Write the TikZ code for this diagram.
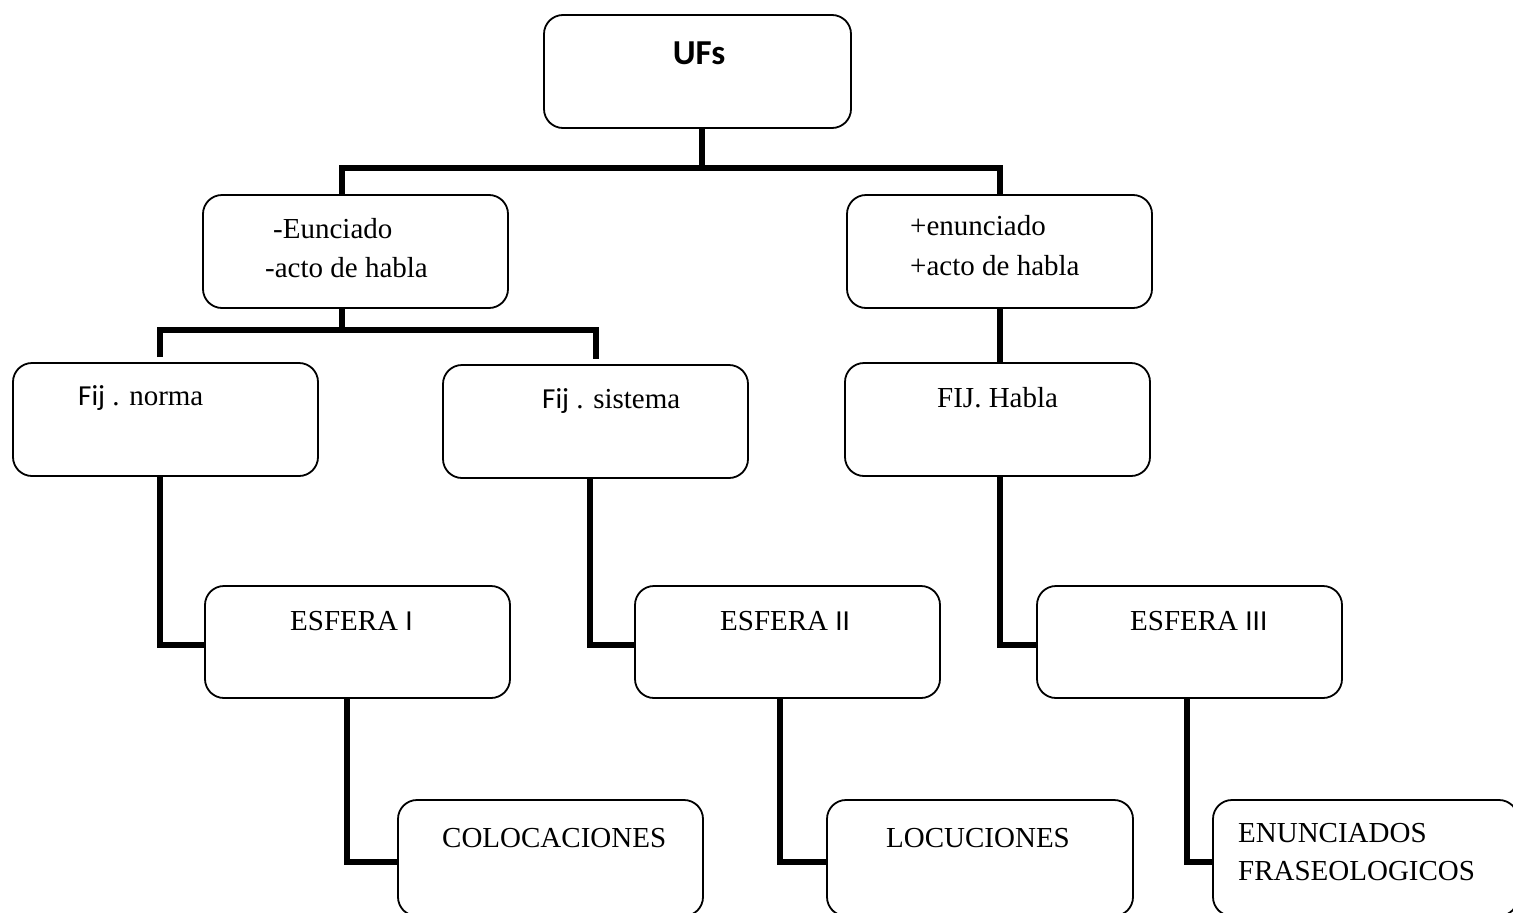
\documentclass[tikz,border=0pt]{standalone}
\usepackage{fontspec}
\setmainfont{Liberation Serif}
\newfontfamily\calibri{Carlito}
\begin{document}
\begin{tikzpicture}[x=1pt, y=-1pt,
  box/.style={draw, line width=1.8pt, rounded corners=19pt, minimum width=305pt, minimum height=113pt, inner sep=0pt},
  link/.style={line width=6pt},
  txt/.style={anchor=base west, inner sep=0pt, font=\fontsize{29}{35}\selectfont}]

\useasboundingbox (0,0) rectangle (1513,913);

% boxes
\node [box, minimum width=307pt] (ufs) at (697.5, 71.5) {};
\node [box] (neg)   at (355.5, 251.5) {};
\node [box] (pos)   at (999.5, 251.5) {};
\node [box] (norma) at (165.5, 419.5) {};
\node [box] (sist)  at (595.5, 421.5) {};
\node [box] (habla) at (997.5, 419.5) {};
\node [box, minimum height=112pt] (esf1) at (357.5, 642) {};
\node [box, minimum height=112pt] (esf2) at (787.5, 642) {};
\node [box, minimum height=112pt] (esf3) at (1189.5, 642) {};
\node [box, minimum height=116pt] (col)  at (550.5, 858) {};
\node [box, minimum height=116pt, minimum width=306pt] (loc) at (980, 858) {};
\node [box, minimum height=116pt] (enun) at (1365.5, 858) {};

% texts
\node [anchor=center, inner sep=0pt, font=\calibri\bfseries\fontsize{35}{40}\selectfont] (ufs-t) at (699, 53) {UFs};
\node [txt] (neg-t1)   at (273, 238) {-Eunciado};
\node [txt] (neg-t2)   at (265, 277) {-acto de habla};
\node [txt] (pos-t1)   at (910, 235) {+enunciado};
\node [txt] (pos-t2)   at (910, 275) {+acto de habla};
\node [txt] (norma-t)  at (78, 405)  {{\calibri Fij} . norma};
\node [txt] (sist-t)   at (542, 408) {{\calibri Fij} . sistema};
\node [txt] (habla-t)  at (937, 407) {FIJ. Habla};
\node [txt] (esf1-t)   at (290, 630) {ESFERA {\calibri I}};
\node [txt] (esf2-t)   at (720, 630) {ESFERA {\calibri II}};
\node [txt] (esf3-t)   at (1130, 630) {ESFERA {\calibri III}};
\node [txt] (col-t)    at (442, 847) {COLOCACIONES};
\node [txt] (loc-t)    at (886, 847) {LOCUCIONES};
\node [txt] (enun-t1)  at (1238, 842) {ENUNCIADOS};
\node [txt] (enun-t2)  at (1238, 880) {FRASEOLOGICOS};

% first fork
\draw [link] ([xshift=4pt]ufs.south) -- ++(0,39) coordinate (trunk);
\draw [link] ([xshift=-13.5pt]neg.north) |- (trunk) -| ([xshift=0.5pt]pos.north);
% second fork
\draw [link] ([xshift=-13.5pt]neg.south) -- ++(0,21) coordinate (negfork);
\draw [link] ([xshift=-5.5pt, yshift=5pt]norma.north) |- (negfork) -| ([xshift=0.5pt, yshift=5pt]sist.north);
\draw [link] ([xshift=0.5pt]pos.south) -- ([xshift=0.5pt]pos.south |- habla.north);
% elbows to the spheres
\draw [link] ([xshift=-5.5pt]norma.south) |- ([yshift=-3pt]esf1.west);
\draw [link] ([xshift=-5.5pt]sist.south)  |- ([yshift=-3pt]esf2.west);
\draw [link] ([xshift=2.5pt]habla.south)  |- ([yshift=-3pt]esf3.west);
% elbows to the classes
\draw [link] ([xshift=-10.5pt]esf1.south) |- ([yshift=-4pt]col.west);
\draw [link] ([xshift=-7.5pt]esf2.south)  |- ([yshift=-4pt]loc.west);
\draw [link] ([xshift=-2.5pt]esf3.south)  |- ([yshift=-4pt]enun.west);

\end{tikzpicture}
\end{document}
